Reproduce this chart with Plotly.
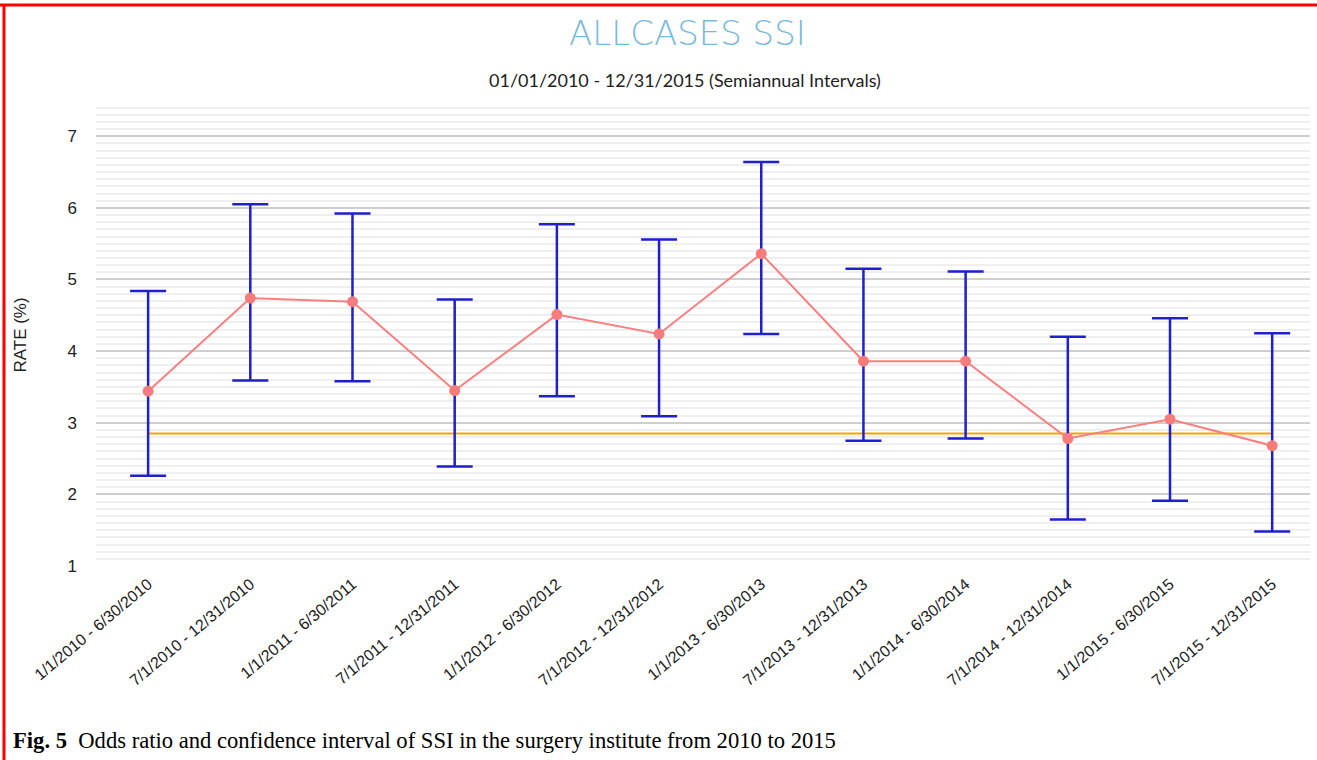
import plotly.graph_objects as go

periods = [
    "1/1/2010 - 6/30/2010", "7/1/2010 - 12/31/2010",
    "1/1/2011 - 6/30/2011", "7/1/2011 - 12/31/2011",
    "1/1/2012 - 6/30/2012", "7/1/2012 - 12/31/2012",
    "1/1/2013 - 6/30/2013", "7/1/2013 - 12/31/2013",
    "1/1/2014 - 6/30/2014", "7/1/2014 - 12/31/2014",
    "1/1/2015 - 6/30/2015", "7/1/2015 - 12/31/2015",
]
rate = [3.44, 4.74, 4.69, 3.45, 4.51, 4.24, 5.36, 3.86, 3.86, 2.78, 3.05, 2.68]
upper = [4.84, 6.05, 5.92, 4.72, 5.77, 5.56, 6.64, 5.15, 5.11, 4.20, 4.46, 4.25]
lower = [2.26, 3.59, 3.58, 2.39, 3.37, 3.09, 4.24, 2.75, 2.78, 1.65, 1.91, 1.48]
baseline = 2.85
y_ticks = [1, 2, 3, 4, 5, 6, 7]

W, H = 1317, 760
ML, MR, MT, MB = 96, 7, 104, 194
PW, PH = W - ML - MR, H - MT - MB


def px(x):
    return (x - ML) / PW


def py(y):
    return (H - MB - y) / PH


idx = list(range(len(periods)))

fig = go.Figure()

fig.add_trace(go.Scatter(
    x=[idx[0], idx[-1]], y=[baseline, baseline], mode="lines",
    line=dict(color="#ffa200", width=2), hoverinfo="skip", showlegend=False,
))

fig.add_trace(go.Scatter(
    x=idx, y=rate, mode="markers",
    marker=dict(size=1, opacity=0),
    error_y=dict(
        type="data", symmetric=False,
        array=[u - r for u, r in zip(upper, rate)],
        arrayminus=[r - l for r, l in zip(rate, lower)],
        color="#1f1fcc", thickness=2.5, width=18,
    ),
    showlegend=False, hoverinfo="skip",
))

fig.add_trace(go.Scatter(
    x=idx, y=rate, mode="lines+markers",
    line=dict(color="#f88080", width=2),
    marker=dict(color="#f87c7c", size=11),
    showlegend=False,
))

fig.update_layout(
    width=W, height=H,
    margin=dict(l=ML, r=MR, t=MT, b=MB),
    paper_bgcolor="white", plot_bgcolor="white",
    font=dict(family="Liberation Sans, Arial, sans-serif", color="#222222"),
    xaxis=dict(
        range=[-0.51, 11.37],
        tickmode="array", tickvals=idx, ticktext=periods,
        tickangle=-40, tickfont=dict(size=16, color="#222222"),
        showgrid=False, zeroline=False, showline=False, ticks="",
        ticklabelstandoff=5,
    ),
    yaxis=dict(
        range=[1, 7.45],
        tickmode="array", tickvals=y_ticks,
        tickfont=dict(size=17, color="#222222"),
        showgrid=True, gridcolor="#cfcfcf", gridwidth=1.5,
        zeroline=False, showline=False, ticks="",
        ticklabelstandoff=18,
        minor=dict(dtick=0.1, showgrid=True, gridcolor="#efefef", gridwidth=2),
        title=dict(text="RATE (%)", font=dict(size=17, color="#222222"), standoff=36),
    ),
    shapes=[
        dict(type="line", xref="paper", yref="paper",
             x0=px(0), x1=px(W), y0=py(5), y1=py(5),
             line=dict(color="#ff0000", width=3)),
        dict(type="line", xref="paper", yref="paper",
             x0=px(4), x1=px(4), y0=py(5), y1=py(H),
             line=dict(color="#ff0000", width=3)),
    ],
    annotations=[
        dict(text="ALLCASES SSI", xref="paper", yref="paper",
             x=px(687), y=py(33), xanchor="center", yanchor="middle",
             showarrow=False,
             font=dict(family="DejaVu Sans", size=34, color="#7ab9dc", weight=200)),
        dict(text="01/01/2010 - 12/31/2015 (Semiannual Intervals)",
             xref="paper", yref="paper",
             x=px(685), y=py(80), xanchor="center", yanchor="middle",
             showarrow=False,
             font=dict(family="Lato", size=18, color="#222222")),
        dict(text="<b>Fig. 5</b>  Odds ratio and confidence interval of SSI in the surgery institute from 2010 to 2015",
             xref="paper", yref="paper",
             x=px(11), y=py(740), xanchor="left", yanchor="middle",
             showarrow=False,
             font=dict(family="Liberation Serif, Times New Roman, serif", size=22.6, color="#000000")),
    ],
)

fig.write_html("out.html", config={"displayModeBar": False},
               post_script="document.body.style.margin='0px';")
